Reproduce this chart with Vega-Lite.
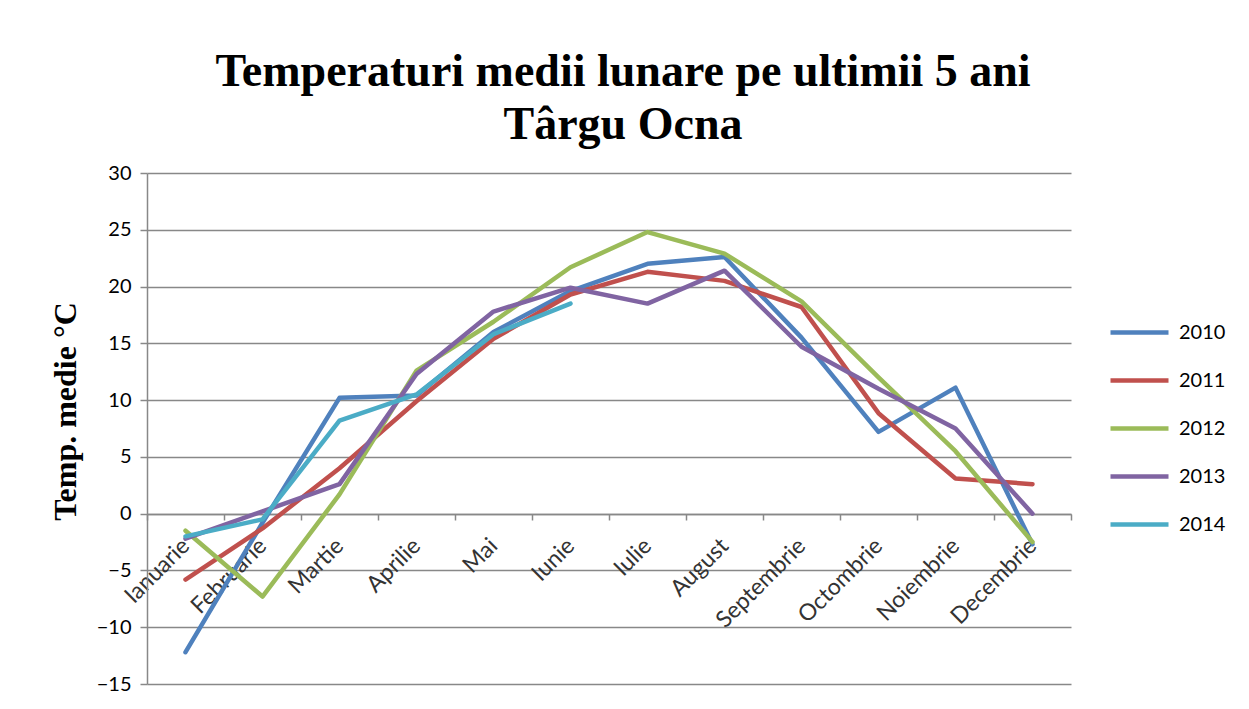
{
  "$schema": "https://vega.github.io/schema/vega-lite/v6.json",
  "width": 924,
  "height": 511,
  "autosize": {"type": "none"},
  "padding": {"left": 147, "top": 173, "right": 178, "bottom": 25},
  "background": "white",
  "title": {
    "text": ["Temperaturi medii lunare pe ultimii 5 ani", "Târgu Ocna"],
    "font": "Liberation Serif",
    "fontSize": 46,
    "fontWeight": "bold",
    "color": "black",
    "lineHeight": 53,
    "anchor": "middle",
    "dx": 14,
    "offset": 14
  },
  "data": {
    "values": [
      {"luna": "Ianuarie", "an": "2010", "t": -12.2},
      {"luna": "Februarie", "an": "2010", "t": -0.8},
      {"luna": "Martie", "an": "2010", "t": 10.2},
      {"luna": "Aprilie", "an": "2010", "t": 10.4},
      {"luna": "Mai", "an": "2010", "t": 16.0},
      {"luna": "Iunie", "an": "2010", "t": 19.6},
      {"luna": "Iulie", "an": "2010", "t": 22.0},
      {"luna": "August", "an": "2010", "t": 22.6},
      {"luna": "Septembrie", "an": "2010", "t": 15.5},
      {"luna": "Octombrie", "an": "2010", "t": 7.2},
      {"luna": "Noiembrie", "an": "2010", "t": 11.1},
      {"luna": "Decembrie", "an": "2010", "t": -2.7},
      {"luna": "Ianuarie", "an": "2011", "t": -5.8},
      {"luna": "Februarie", "an": "2011", "t": -1.3},
      {"luna": "Martie", "an": "2011", "t": 4.0},
      {"luna": "Aprilie", "an": "2011", "t": 9.9},
      {"luna": "Mai", "an": "2011", "t": 15.4},
      {"luna": "Iunie", "an": "2011", "t": 19.3},
      {"luna": "Iulie", "an": "2011", "t": 21.3},
      {"luna": "August", "an": "2011", "t": 20.5},
      {"luna": "Septembrie", "an": "2011", "t": 18.2},
      {"luna": "Octombrie", "an": "2011", "t": 8.85},
      {"luna": "Noiembrie", "an": "2011", "t": 3.1},
      {"luna": "Decembrie", "an": "2011", "t": 2.6},
      {"luna": "Ianuarie", "an": "2012", "t": -1.5},
      {"luna": "Februarie", "an": "2012", "t": -7.3},
      {"luna": "Martie", "an": "2012", "t": 1.7},
      {"luna": "Aprilie", "an": "2012", "t": 12.6},
      {"luna": "Mai", "an": "2012", "t": 16.9},
      {"luna": "Iunie", "an": "2012", "t": 21.7},
      {"luna": "Iulie", "an": "2012", "t": 24.8},
      {"luna": "August", "an": "2012", "t": 22.9},
      {"luna": "Septembrie", "an": "2012", "t": 18.7},
      {"luna": "Octombrie", "an": "2012", "t": 12.0},
      {"luna": "Noiembrie", "an": "2012", "t": 5.5},
      {"luna": "Decembrie", "an": "2012", "t": -2.5},
      {"luna": "Ianuarie", "an": "2013", "t": -2.2},
      {"luna": "Februarie", "an": "2013", "t": 0.2},
      {"luna": "Martie", "an": "2013", "t": 2.6},
      {"luna": "Aprilie", "an": "2013", "t": 12.3},
      {"luna": "Mai", "an": "2013", "t": 17.8},
      {"luna": "Iunie", "an": "2013", "t": 19.9},
      {"luna": "Iulie", "an": "2013", "t": 18.5},
      {"luna": "August", "an": "2013", "t": 21.4},
      {"luna": "Septembrie", "an": "2013", "t": 14.7},
      {"luna": "Octombrie", "an": "2013", "t": 11.0},
      {"luna": "Noiembrie", "an": "2013", "t": 7.5},
      {"luna": "Decembrie", "an": "2013", "t": 0.0},
      {"luna": "Ianuarie", "an": "2014", "t": -2.0},
      {"luna": "Februarie", "an": "2014", "t": -0.5},
      {"luna": "Martie", "an": "2014", "t": 8.2},
      {"luna": "Aprilie", "an": "2014", "t": 10.5},
      {"luna": "Mai", "an": "2014", "t": 15.8},
      {"luna": "Iunie", "an": "2014", "t": 18.5}
    ]
  },
  "mark": {"type": "line", "strokeWidth": 4.5, "strokeJoin": "round", "strokeCap": "round"},
  "encoding": {
    "x": {
      "field": "luna",
      "type": "ordinal",
      "sort": ["Ianuarie", "Februarie", "Martie", "Aprilie", "Mai", "Iunie", "Iulie", "August", "Septembrie", "Octombrie", "Noiembrie", "Decembrie"],
      "scale": {"type": "band", "paddingInner": 0, "paddingOuter": 0},
      "bandPosition": 0.5,
      "axis": {
        "title": null,
        "offset": -170,
        "domainColor": "#888888",
        "domainWidth": 1.5,
        "tickColor": "#888888",
        "tickWidth": 1.5,
        "tickSize": 6,
        "tickBand": "extent",
        "labelAngle": -45,
        "labelAlign": "right",
        "labelBaseline": "middle",
        "labelPadding": 22,
        "labelFont": "Lato",
        "labelFontSize": 23,
        "labelColor": "#333333",
        "grid": false
      }
    },
    "y": {
      "field": "t",
      "type": "quantitative",
      "scale": {"domain": [-15, 30], "nice": false, "zero": false},
      "axis": {
        "title": "Temp. medie °C",
        "titleFont": "Liberation Serif",
        "titleFontSize": 32,
        "titleFontWeight": "bold",
        "titleColor": "black",
        "titleX": -82,
        "titleY": 238,
        "titleAlign": "center",
        "titleBaseline": "middle",
        "titleAngle": -90,
        "values": [-15, -10, -5, 0, 5, 10, 15, 20, 25, 30],
        "domainColor": "#888888",
        "domainWidth": 1.5,
        "tickColor": "#888888",
        "tickWidth": 1.5,
        "tickSize": 7,
        "labelPadding": 9,
        "labelFont": "Lato",
        "labelFontSize": 20,
        "labelColor": "black",
        "gridColor": "#888888",
        "gridWidth": 1.5
      }
    },
    "color": {
      "field": "an",
      "type": "nominal",
      "scale": {
        "domain": ["2010", "2011", "2012", "2013", "2014"],
        "range": ["#4F81BD", "#C0504D", "#9BBB59", "#8064A2", "#4BACC6"]
      },
      "legend": {
        "title": null,
        "orient": "none",
        "legendX": 961,
        "legendY": 128,
        "symbolType": "stroke",
        "symbolStrokeWidth": 4.5,
        "symbolSize": 3364,
        "labelFont": "Lato",
        "labelFontSize": 20,
        "labelColor": "black",
        "rowPadding": 6,
        "labelOffset": 8
      }
    }
  },
  "config": {"view": {"stroke": null}}
}
